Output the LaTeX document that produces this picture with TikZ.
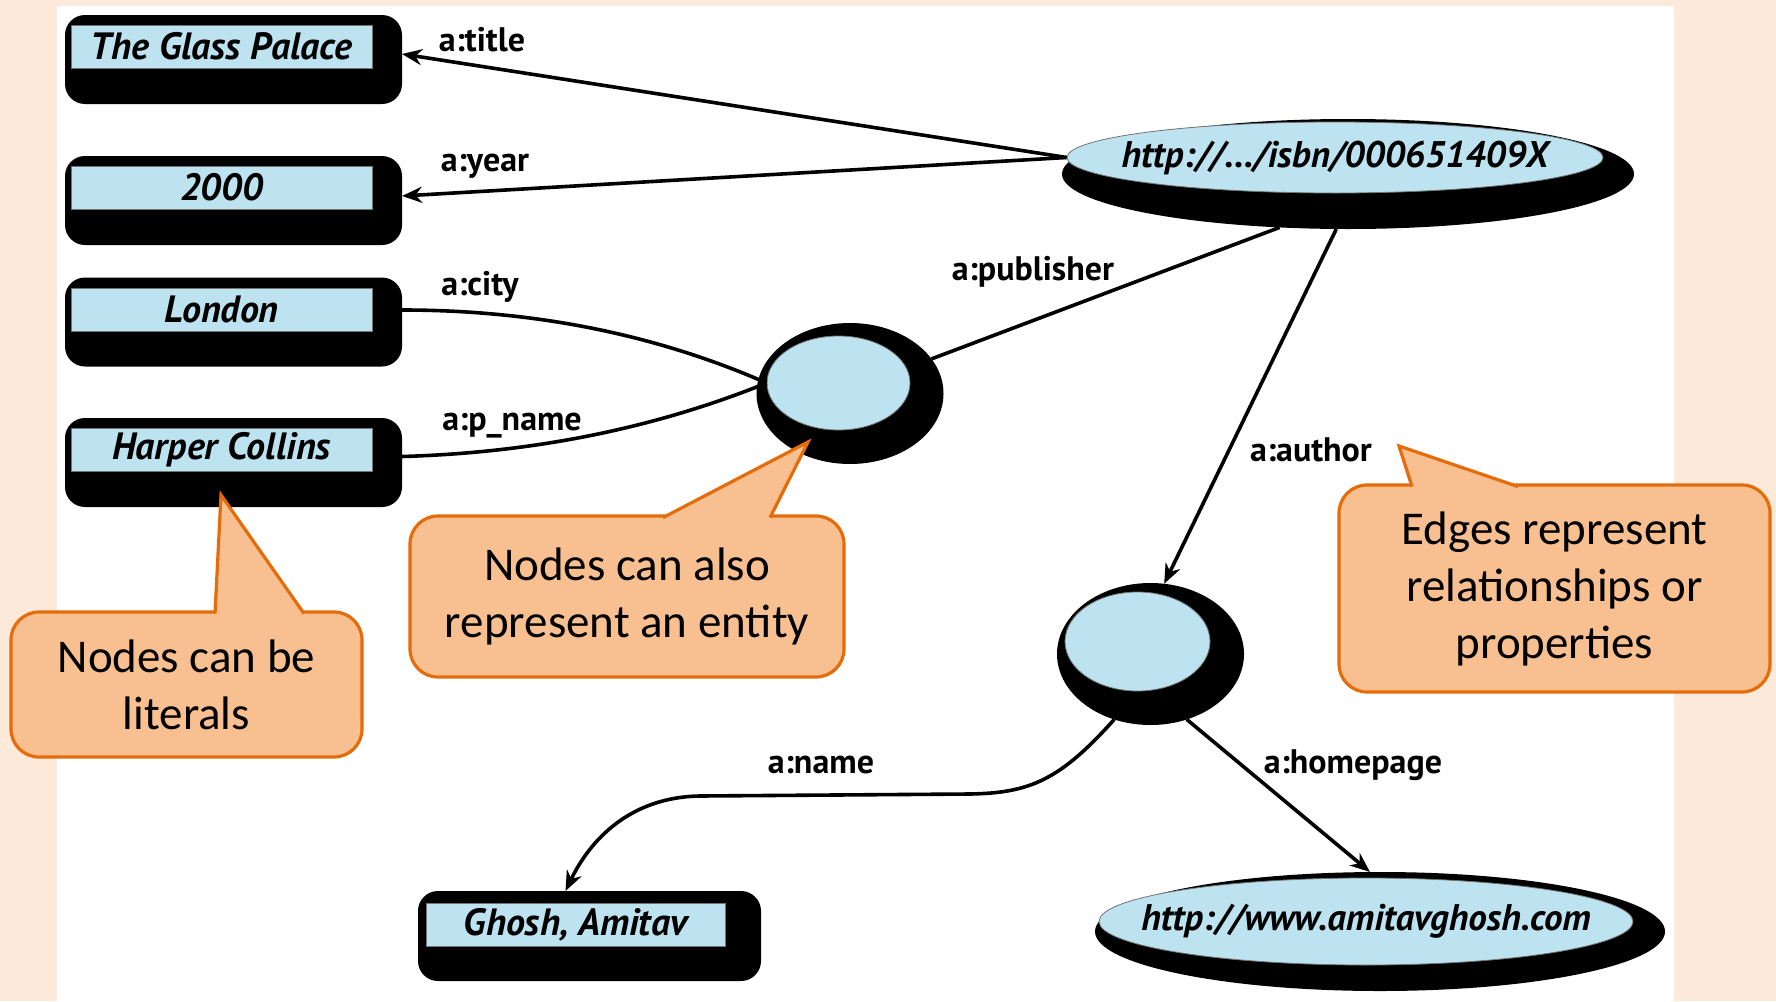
\documentclass[tikz,border=0pt]{standalone}
\usepackage{fontspec}
\setmainfont{Carlito}
\newfontfamily\nodefont{PT Sans}
\newfontfamily\labfont{PT Sans}
\usetikzlibrary{shapes.geometric,arrows.meta}
\definecolor{peach}{HTML}{FCE9DA}
\definecolor{nodeblue}{HTML}{BDE3F0}
\definecolor{cofill}{HTML}{F8C090}
\definecolor{coline}{HTML}{E46C0A}
\begin{document}
\begin{tikzpicture}[x=0.5pt,y=-0.5pt,
  blkbox/.style={rectangle, fill=black, rounded corners=10pt, inner sep=0, outer sep=0},
  blkell/.style={ellipse, fill=black, inner sep=0, outer sep=0},
  litbox/.style={rectangle, fill=nodeblue, draw=black!55, line width=0.4pt, inner sep=0,
     minimum width=150.5pt, minimum height=21.5pt, font=\nodefont\bfseries\itshape\fontsize{19}{21}\selectfont},
  resell/.style={ellipse, fill=nodeblue, draw=black!55, line width=0.4pt, inner sep=0,
     font=\nodefont\bfseries\itshape\fontsize{18.5}{21}\selectfont},
  edge/.style={line width=1.8pt},
  arr/.style={-{Stealth[length=10pt,width=8pt]}},
  lab/.style={font=\labfont\bfseries\fontsize{17}{19}\selectfont, inner sep=0},
  callout/.style={rectangle, rounded corners=14pt, fill=cofill, draw=coline, line width=1.6pt,
     align=center, font=\fontsize{23.5}{28.5}\selectfont, inner sep=0, outer sep=0},
  ptr/.style={draw=coline, line width=1.6pt, line join=miter},
]
\useasboundingbox (0,0) rectangle (1776,1001);
\fill[peach] (0,0) rectangle (1776,1001);
\fill[white] (57,6) rectangle (1674,1001);

% black backing shapes
\node[blkbox, minimum width=168.5pt, minimum height=44.5pt] (glassB) at (233.5,59.5) {};
\node[blkbox, minimum width=168.5pt, minimum height=44.5pt] (yearB) at (233.5,200.5) {};
\node[blkbox, minimum width=168.5pt, minimum height=44.5pt] (londonB) at (233.5,322) {};
\node[blkbox, minimum width=168.5pt, minimum height=44.5pt] (harperB) at (233.5,462.5) {};
\node[blkbox, minimum width=171.5pt, minimum height=45pt] (ghoshB) at (589.5,936) {};
\node[blkell, minimum width=286pt, minimum height=55pt] (isbnB) at (1348,174) {};
\node[blkell, minimum width=93.5pt, minimum height=70.5pt] (pubB) at (850,393.5) {};
\node[blkell, minimum width=93.5pt, minimum height=71pt] (authB) at (1150.5,654) {};
\node[blkell, minimum width=285pt, minimum height=59.5pt] (homeB) at (1380,931.5) {};

% light nodes
\node[litbox] (glass) at (221.5,46.5) {The Glass Palace};
\node[litbox] (year) at (221.5,187.5) {2000};
\node[litbox] (london) at (221.5,309.5) {London};
\node[litbox] (harper) at (221.5,449.5) {Harper Collins};
\node[litbox, minimum width=149.5pt] (ghosh) at (575.5,924.5) {Ghosh, Amitav};
\node[resell, minimum width=268pt, minimum height=35.5pt] (isbn) at (1335,157.5) {\makebox[0pt]{http://.../isbn/000651409X}};
\node[resell, minimum width=71.5pt, minimum height=47pt] (pub) at (838.5,383) {};
\node[resell, minimum width=72.5pt, minimum height=49.5pt] (auth) at (1137.5,641.5) {};
\node[resell, minimum width=267pt, minimum height=43.5pt] (home) at (1366,921.5) {\makebox[0pt]{http://www.amitavghosh.com}};

% edges
\draw[edge,arr] (isbn.west) -- ([yshift=2.75pt]glassB.east);
\draw[edge,arr] (isbn.west) -- ([yshift=2.25pt]yearB.east);
\draw[edge] (pub.west) .. controls (680,345) and (560,310) .. ([yshift=6pt]londonB.east);
\draw[edge] (pub.west) .. controls (680,418) and (560,452) .. ([yshift=3pt]harperB.east);
\draw[edge] (isbnB.218) -- (pubB.23);
\draw[edge,arr] (isbnB.258) -- (authB.79);
\draw[edge,arr] (authB.241) .. controls (1060,780) and (1030,793) .. (970,794) -- (700,796)
   .. controls (630,797) and (590,840) .. ([xshift=-12pt]ghoshB.north);
\draw[edge,arr] (authB.299) -- ([xshift=-5pt]homeB.north);

% edge labels
\node[lab] (ltitle) at (482,40) {a:title};
\node[lab] (lyear) at (485,166) {a:year};
\node[lab] (lcity) at (480,287) {a:city};
\node[lab] (lpname) at (512,426) {a:p\_name};
\node[lab] (lpub) at (1033,272) {a:publisher};
\node[lab] (lauth) at (1311,450) {a:author};
\node[lab] (lname) at (821,765) {a:name};
\node[lab] (lhome) at (1353,765) {a:homepage};

% callouts
\node[callout, minimum width=175.5pt, minimum height=72.5pt] (c1) at (186.5,684.5) {Nodes can be\\literals};
\coordinate (t1) at (221,495);
\fill[cofill] ([xshift=14.25pt,yshift=-1.5pt]c1.north) -- (t1) -- ([xshift=58.75pt,yshift=-1.5pt]c1.north) -- cycle;
\draw[ptr] ([xshift=14.25pt,yshift=-0.8pt]c1.north) -- (t1) -- ([xshift=58.75pt,yshift=-0.8pt]c1.north);

\node[callout, minimum width=217pt, minimum height=80.5pt] (c2) at (627,596.5) {Nodes can also\\represent an entity};
\coordinate (t2) at (808,442);
\fill[cofill] ([xshift=18pt,yshift=-1.5pt]c2.north) -- (t2) -- ([xshift=71.5pt,yshift=-1.5pt]c2.north) -- cycle;
\draw[ptr] ([xshift=18pt,yshift=-0.8pt]c2.north) -- (t2) -- ([xshift=71.5pt,yshift=-0.8pt]c2.north);

\node[callout, minimum width=215.5pt, minimum height=103.5pt] (c3) at (1554.5,588.5) {Edges represent\\relationships or\\properties};
\coordinate (t3) at (1399,446);
\fill[cofill] ([xshift=-71.25pt,yshift=-1.5pt]c3.north) -- (t3) -- ([xshift=-18.25pt,yshift=-1.5pt]c3.north) -- cycle;
\draw[ptr] ([xshift=-71.25pt,yshift=-0.8pt]c3.north) -- (t3) -- ([xshift=-18.25pt,yshift=-0.8pt]c3.north);
\end{tikzpicture}
\end{document}
